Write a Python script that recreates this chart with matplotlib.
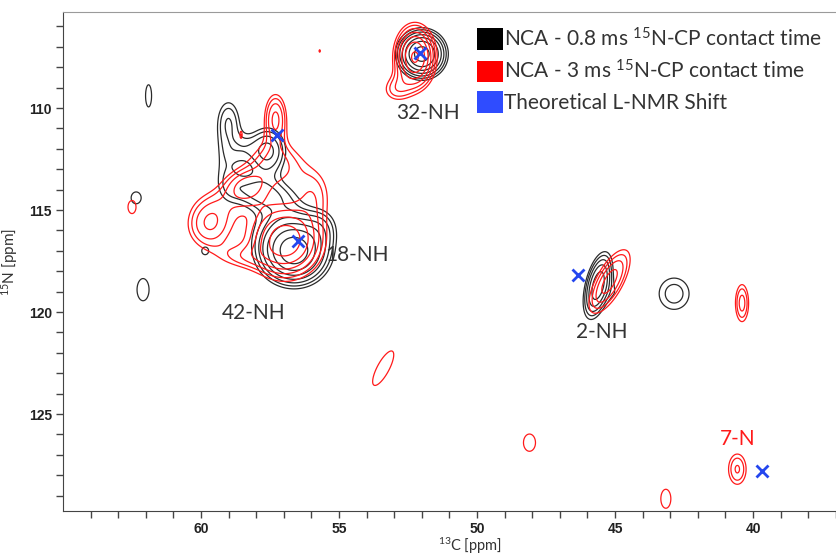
import numpy as np
import matplotlib
matplotlib.use('Agg')
import matplotlib.pyplot as plt
from matplotlib.patches import Patch

plt.rcParams['mathtext.fontset'] = 'custom'
plt.rcParams['mathtext.rm'] = 'Lato'
plt.rcParams['mathtext.it'] = 'Lato:italic'

# peak tables: C shift, N shift, width C, width N, shear, height (in units of the lowest contour)
black_c = [61.9, 62.35, 62.1, 42.86, 59.85,
           56.6, 57.0, 57.6, 59.0, 59.1, 58.4, 55.6, 57.5, 58.5,
           52.0, 45.62, 44.75]
black_n = [109.4, 114.4, 118.9, 119.1, 117.0,
           117.1, 116.0, 112.1, 110.6, 112.9, 113.9, 115.8, 114.3, 112.0,
           107.35, 118.7, 119.2]
black_wc = [0.18, 0.30, 0.36, 0.60, 0.20,
            0.75, 0.90, 0.50, 0.35, 0.40, 0.60, 0.45, 0.70, 0.35,
            0.52, 0.30, 0.35]
black_wn = [0.90, 0.48, 0.90, 0.85, 0.30,
            0.95, 1.30, 0.85, 0.90, 1.40, 0.60, 0.70, 0.60, 0.50,
            0.70, 1.05, 0.60]
black_k = [0, 0, 0, 0, 0,
           0, 0, 0, 0, 0, 0, 0, 0, 0,
           0, 0.15, 0]
black_h = [1.2, 1.2, 1.2, 1.5, 1.2,
           5.0, 1.3, 2.4, 1.45, 1.05, 1.0, 1.0, 1.1, 0.8,
           5.5, 3.5, 0.95]

red_c = [62.5, 58.55, 55.7, 53.4, 48.1, 40.4, 40.57, 43.16,
         57.3, 57.3, 58.4, 59.7, 56.96, 55.9, 58.6, 58.8,
         52.25, 52.95, 45.2]
red_n = [114.85, 111.3, 107.2, 122.75, 126.4, 119.56, 127.7, 129.15,
         110.5, 112.8, 113.8, 115.7, 116.5, 114.2, 117.3, 114.5,
         107.5, 109.1, 118.5]
red_wc = [0.24, 0.05, 0.04, 0.40, 0.36, 0.21, 0.30, 0.30,
          0.30, 0.75, 0.55, 0.60, 0.85, 0.50, 0.70, 0.80,
          0.45, 0.40, 0.40]
red_wn = [0.53, 0.22, 0.10, 1.40, 0.70, 0.80, 0.70, 0.77,
          0.90, 0.90, 0.60, 0.90, 1.15, 1.00, 0.45, 0.70,
          0.95, 0.50, 1.15]
red_k = [0, 0, 0, 0.35, 0, 0, 0, 0,
         0, 0, 0, 0, 0, 0, 0, 0,
         0, 0, 0.33]
red_h = [1.2, 1.2, 1.2, 1.2, 1.2, 1.9, 1.75, 1.2,
         2.3, 1.9, 1.7, 2.2, 4.5, 1.3, 1.0, 0.9,
         5.0, 1.3, 2.5]

# predicted shifts
theo_c = [57.25, 56.5, 52.07, 46.35, 39.67]
theo_n = [111.3, 116.5, 107.3, 118.2, 127.8]

peak_labels = ['32-NH', '18-NH', '42-NH', '2-NH', '7-N']
label_c = [51.78, 55.5, 58.1, 45.47, 40.54]
label_n = [110.25, 117.2, 120.05, 121.0, 126.2]

legend_labels = [r'NCA - 0.8 ms $^{15}$N-CP contact time',
                 r'NCA - 3 ms $^{15}$N-CP contact time',
                 'Theoretical L-NMR Shift']


def spectrum(cx, cy, c, n, wc, wn, k, h):
    z = np.zeros_like(cx)
    for i in range(len(c)):
        dx = cx - c[i] - k[i] * (cy - n[i])
        dy = cy - n[i]
        z += h[i] * np.exp(-0.5 * ((dx / wc[i]) ** 2 + (dy / wn[i]) ** 2))
    return z


xg = np.arange(34.0, 67.0, 0.025)
yg = np.arange(104.0, 131.0, 0.025)
cx, cy = np.meshgrid(xg, yg)
z_black = spectrum(cx, cy, black_c, black_n, black_wc, black_wn, black_k, black_h)
z_red = spectrum(cx, cy, red_c, red_n, red_wc, red_wn, red_k, red_h)
levels = 1.3 ** np.arange(0, 10)

fig = plt.figure(figsize=(8.37, 5.55), dpi=100)
ax = fig.add_axes([63 / 837, 1 - 511 / 555, (877 - 63) / 837, (511 - 12) / 555])

ax.contour(cx, cy, z_black, levels=levels, colors='#2b2b2b', linewidths=0.9)
ax.contour(cx, cy, z_red, levels=levels, colors='#ff1a1a', linewidths=0.9)
ax.plot(theo_c, theo_n, 'x', color='#2446ee', ms=9, mew=2)

for lab, lc, ln in zip(peak_labels, label_c, label_n):
    col = '#ff1a1a' if lab == '7-N' else '#333333'
    ha = 'left' if lab == '18-NH' else 'center'
    ax.text(lc, ln, lab, color=col, ha=ha, va='center', fontsize=15, family='Lato')

ax.set_xlim(65.0, 35.51)
ax.set_ylim(129.75, 105.29)
ax.set_xticks([60, 55, 50, 45, 40])
ax.set_xticks(np.arange(36, 65), minor=True)
ax.set_yticks([110, 115, 120, 125])
ax.set_yticks(np.arange(106, 130), minor=True)
ax.tick_params(which='both', direction='out', length=5, width=1, color='#444444', pad=3)
for t in ax.get_xticklabels() + ax.get_yticklabels():
    t.set_fontfamily('Liberation Sans')
    t.set_fontweight('bold')
    t.set_fontsize(10)
    t.set_color('#222222')

ax.spines['right'].set_visible(False)
ax.spines['top'].set_color('#9a9a9a')
ax.spines['left'].set_color('#444444')
ax.spines['bottom'].set_color('#444444')

ax.set_xlabel(r'$^{13}$C [ppm]', fontsize=10.5, family='Lato', color='#333333')
ax.set_ylabel(r'$^{15}$N [ppm]', fontsize=11, family='Lato', color='#333333')
ax.xaxis.set_label_coords(0.5, -0.05)
ax.yaxis.set_label_coords(-0.053, 0.5)

handles = [Patch(facecolor='black'), Patch(facecolor='#ff0000'), Patch(facecolor='#2f4cff')]
leg = ax.legend(handles, legend_labels, loc='upper left', bbox_to_anchor=(477 / 837, 1 - 27 / 555),
                bbox_transform=fig.transFigure, frameon=False, borderpad=0, borderaxespad=0,
                handlelength=1.25, handleheight=1.2, handletextpad=0.05, labelspacing=0.43,
                prop={'family': 'Lato', 'size': 15})
for t in leg.get_texts():
    t.set_color('#333333')

fig.savefig('out.png', dpi=100)
